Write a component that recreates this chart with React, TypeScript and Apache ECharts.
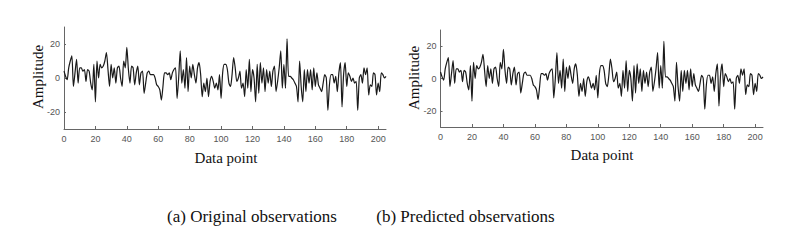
import React, { useEffect, useRef } from "react";
import * as echarts from "echarts";

const xTicks = [0, 20, 40, 60, 80, 100, 120, 140, 160, 180, 200];
const yTicks = [-20, 0, 20];

const original = [
  4, 1, -1, 6, 10, 13, -5, 3, 11, -3, 6, 6, 4, 5, -2, 5, 4, -3, -7, 8,
  -14, 10, 0, 8, 6, 7, 10, 15, 5, -5, 8, 0, 6, -3, 6, 7, 0, -5, 10, 6,
  18, 5, -3, 7, 6, -4, 3, 7, -4, 3, 4, -9, -3, 3, 4, 2, 2, 2, 0, -4,
  -5, -7, -13, -5, 3, 3, 2, 3, -1, 3, 5, 6, -12, 0, 16, -3, 5, -6, 12, -8,
  7, 0, 8, 2, -3, 6, 9, 2, -11, -3, -8, 0, -11, -2, 1, -2, -6, -3, -7, 2,
  -12, 3, 8, 8, 5, -3, -5, 2, 12, 6, -2, 0, 4, -6, -3, -11, 5, -6, 11, -8,
  5, 0, -14, 8, -9, 9, -3, 6, -8, 5, -3, 4, -5, 4, 7, -8, -2, 6, 16, -6,
  8, -6, 23, 1, 1, 0, -1, -3, -5, -14, 10, -5, -14, 5, -8, 5, -3, 5, -7, 6,
  -5, 3, -4, -6, -8, -3, 2, 0, -19, -4, 2, 2, -3, 1, -8, 3, 9, -17, 2, 9,
  -5, 3, 1, -2, 0, -3, -2, -19, 0, 2, -3, 6, 2, 6, -10, -4, -5, 3, 2, -10,
  -3, -8, 3, 2, 0, 1,
];

const predicted = [
  4, 1, -1, 6, 10, 13, -5, 3, 11, -3, 6, 6, 4, 5, -2, 5, 4, -3, -7, 8,
  -14, 10, 0, 8, 6, 7, 10, 15, 5, -5, 8, 0, 6, -3, 6, 7, 0, -5, 10, 6,
  18, 5, -3, 7, 6, -4, 3, 7, -4, 3, 4, -9, -3, 3, 4, 2, 2, 2, 0, -4,
  -5, -7, -13, -5, 3, 3, 2, 3, -1, 3, 5, 6, -12, 0, 16, -3, 5, -6, 12, -8,
  7, 0, 8, 2, -3, 6, 9, 2, -11, -3, -8, 0, -11, -2, 1, -2, -6, -3, -7, 2,
  -12, 3, 8, 8, 5, -3, -5, 2, 12, 6, -2, 0, 4, -6, -3, -11, 5, -6, 11, -8,
  5, 0, -14, 8, -9, 9, -3, 6, -8, 5, -3, 4, -5, 4, 7, -8, -2, 6, 16, -6,
  8, -6, 23, 1, 1, 0, -1, -3, -5, -14, 10, -5, -14, 5, -8, 5, -3, 5, -7, 6,
  -5, 3, -4, -6, -8, -3, 2, 0, -19, -4, 2, 2, -3, 1, -8, 3, 9, -17, 2, 9,
  -5, 3, 1, -2, 0, -3, -2, -19, 0, 2, -3, 6, 2, 6, -10, -4, -5, 3, 2, -10,
  -3, -8, 3, 2, 0, 1,
];

const captions = ["(a) Original observations", "(b) Predicted observations"];
const xName = "Data point";
const yName = "Amplitude";

const axisColor = "#666";
const serif = "'Liberation Serif', 'Times New Roman', serif";
const sans = "'Liberation Sans', Arial, sans-serif";

function makeX(gridIndex: number) {
  return {
    type: "value",
    gridIndex,
    min: 0,
    max: 205,
    axisLine: { show: true, onZero: false, lineStyle: { color: axisColor, width: 1 } },
    axisTick: {
      show: true,
      inside: true,
      length: 3,
      customValues: xTicks,
      lineStyle: { color: axisColor },
    },
    axisLabel: {
      customValues: xTicks,
      color: "#555",
      fontSize: 9,
      fontFamily: sans,
      margin: 5,
    },
    splitLine: { show: false },
  };
}

function makeY(gridIndex: number) {
  return {
    type: "value",
    gridIndex,
    min: -30,
    max: 30,
    axisLine: { show: true, onZero: false, lineStyle: { color: axisColor, width: 1 } },
    axisTick: {
      show: true,
      inside: true,
      length: 2,
      customValues: yTicks,
      lineStyle: { color: axisColor },
    },
    axisLabel: {
      customValues: yTicks,
      color: "#555",
      fontSize: 9,
      fontFamily: sans,
      margin: 4,
    },
    splitLine: { show: false },
  };
}

export default function App() {
  const ref = useRef<HTMLDivElement>(null);
  useEffect(() => {
    if (!ref.current) return;
    const chart = echarts.init(ref.current, undefined, { renderer: "svg" });
    const toPairs = (arr: number[]) => arr.map((v, i) => [i, v]);
    chart.setOption({
      animation: false,
      backgroundColor: "#fff",
      grid: [
        { left: 64, top: 27, width: 322, height: 102 },
        { left: 440.5, top: 30, width: 322.5, height: 97 },
      ],
      xAxis: [makeX(0), makeX(1)],
      yAxis: [makeY(0), makeY(1)],
      series: [
        {
          type: "line",
          xAxisIndex: 0,
          yAxisIndex: 0,
          data: toPairs(original),
          showSymbol: false,
          smooth: 0.25,
          lineStyle: { color: "#1a1a1a", width: 1.2 },
        },
        {
          type: "line",
          xAxisIndex: 1,
          yAxisIndex: 1,
          data: toPairs(predicted),
          showSymbol: false,
          smooth: 0.25,
          lineStyle: { color: "#1a1a1a", width: 1.2 },
        },
      ],
      graphic: [
        {
          type: "text",
          x: 38,
          y: 77,
          rotation: Math.PI / 2,
          style: { text: yName, font: `15px ${serif}`, fill: "#111", align: "center", verticalAlign: "middle" },
        },
        {
          type: "text",
          x: 414,
          y: 78,
          rotation: Math.PI / 2,
          style: { text: yName, font: `15px ${serif}`, fill: "#111", align: "center", verticalAlign: "middle" },
        },
        {
          type: "text",
          x: 226,
          y: 158,
          style: { text: xName, font: `15px ${serif}`, fill: "#111", align: "center", verticalAlign: "middle" },
        },
        {
          type: "text",
          x: 602,
          y: 155,
          style: { text: xName, font: `15px ${serif}`, fill: "#111", align: "center", verticalAlign: "middle" },
        },
        {
          type: "text",
          x: 252,
          y: 216,
          style: { text: captions[0], font: `17px ${serif}`, fill: "#111", align: "center", verticalAlign: "middle" },
        },
        {
          type: "text",
          x: 465.5,
          y: 216,
          style: { text: captions[1], font: `17px ${serif}`, fill: "#111", align: "center", verticalAlign: "middle" },
        },
      ],
    });
    return () => chart.dispose();
  }, []);
  return (
    <div
      ref={ref}
      style={{ position: "fixed", left: 0, top: 0, width: 794, height: 243, background: "#fff" }}
    />
  );
}
